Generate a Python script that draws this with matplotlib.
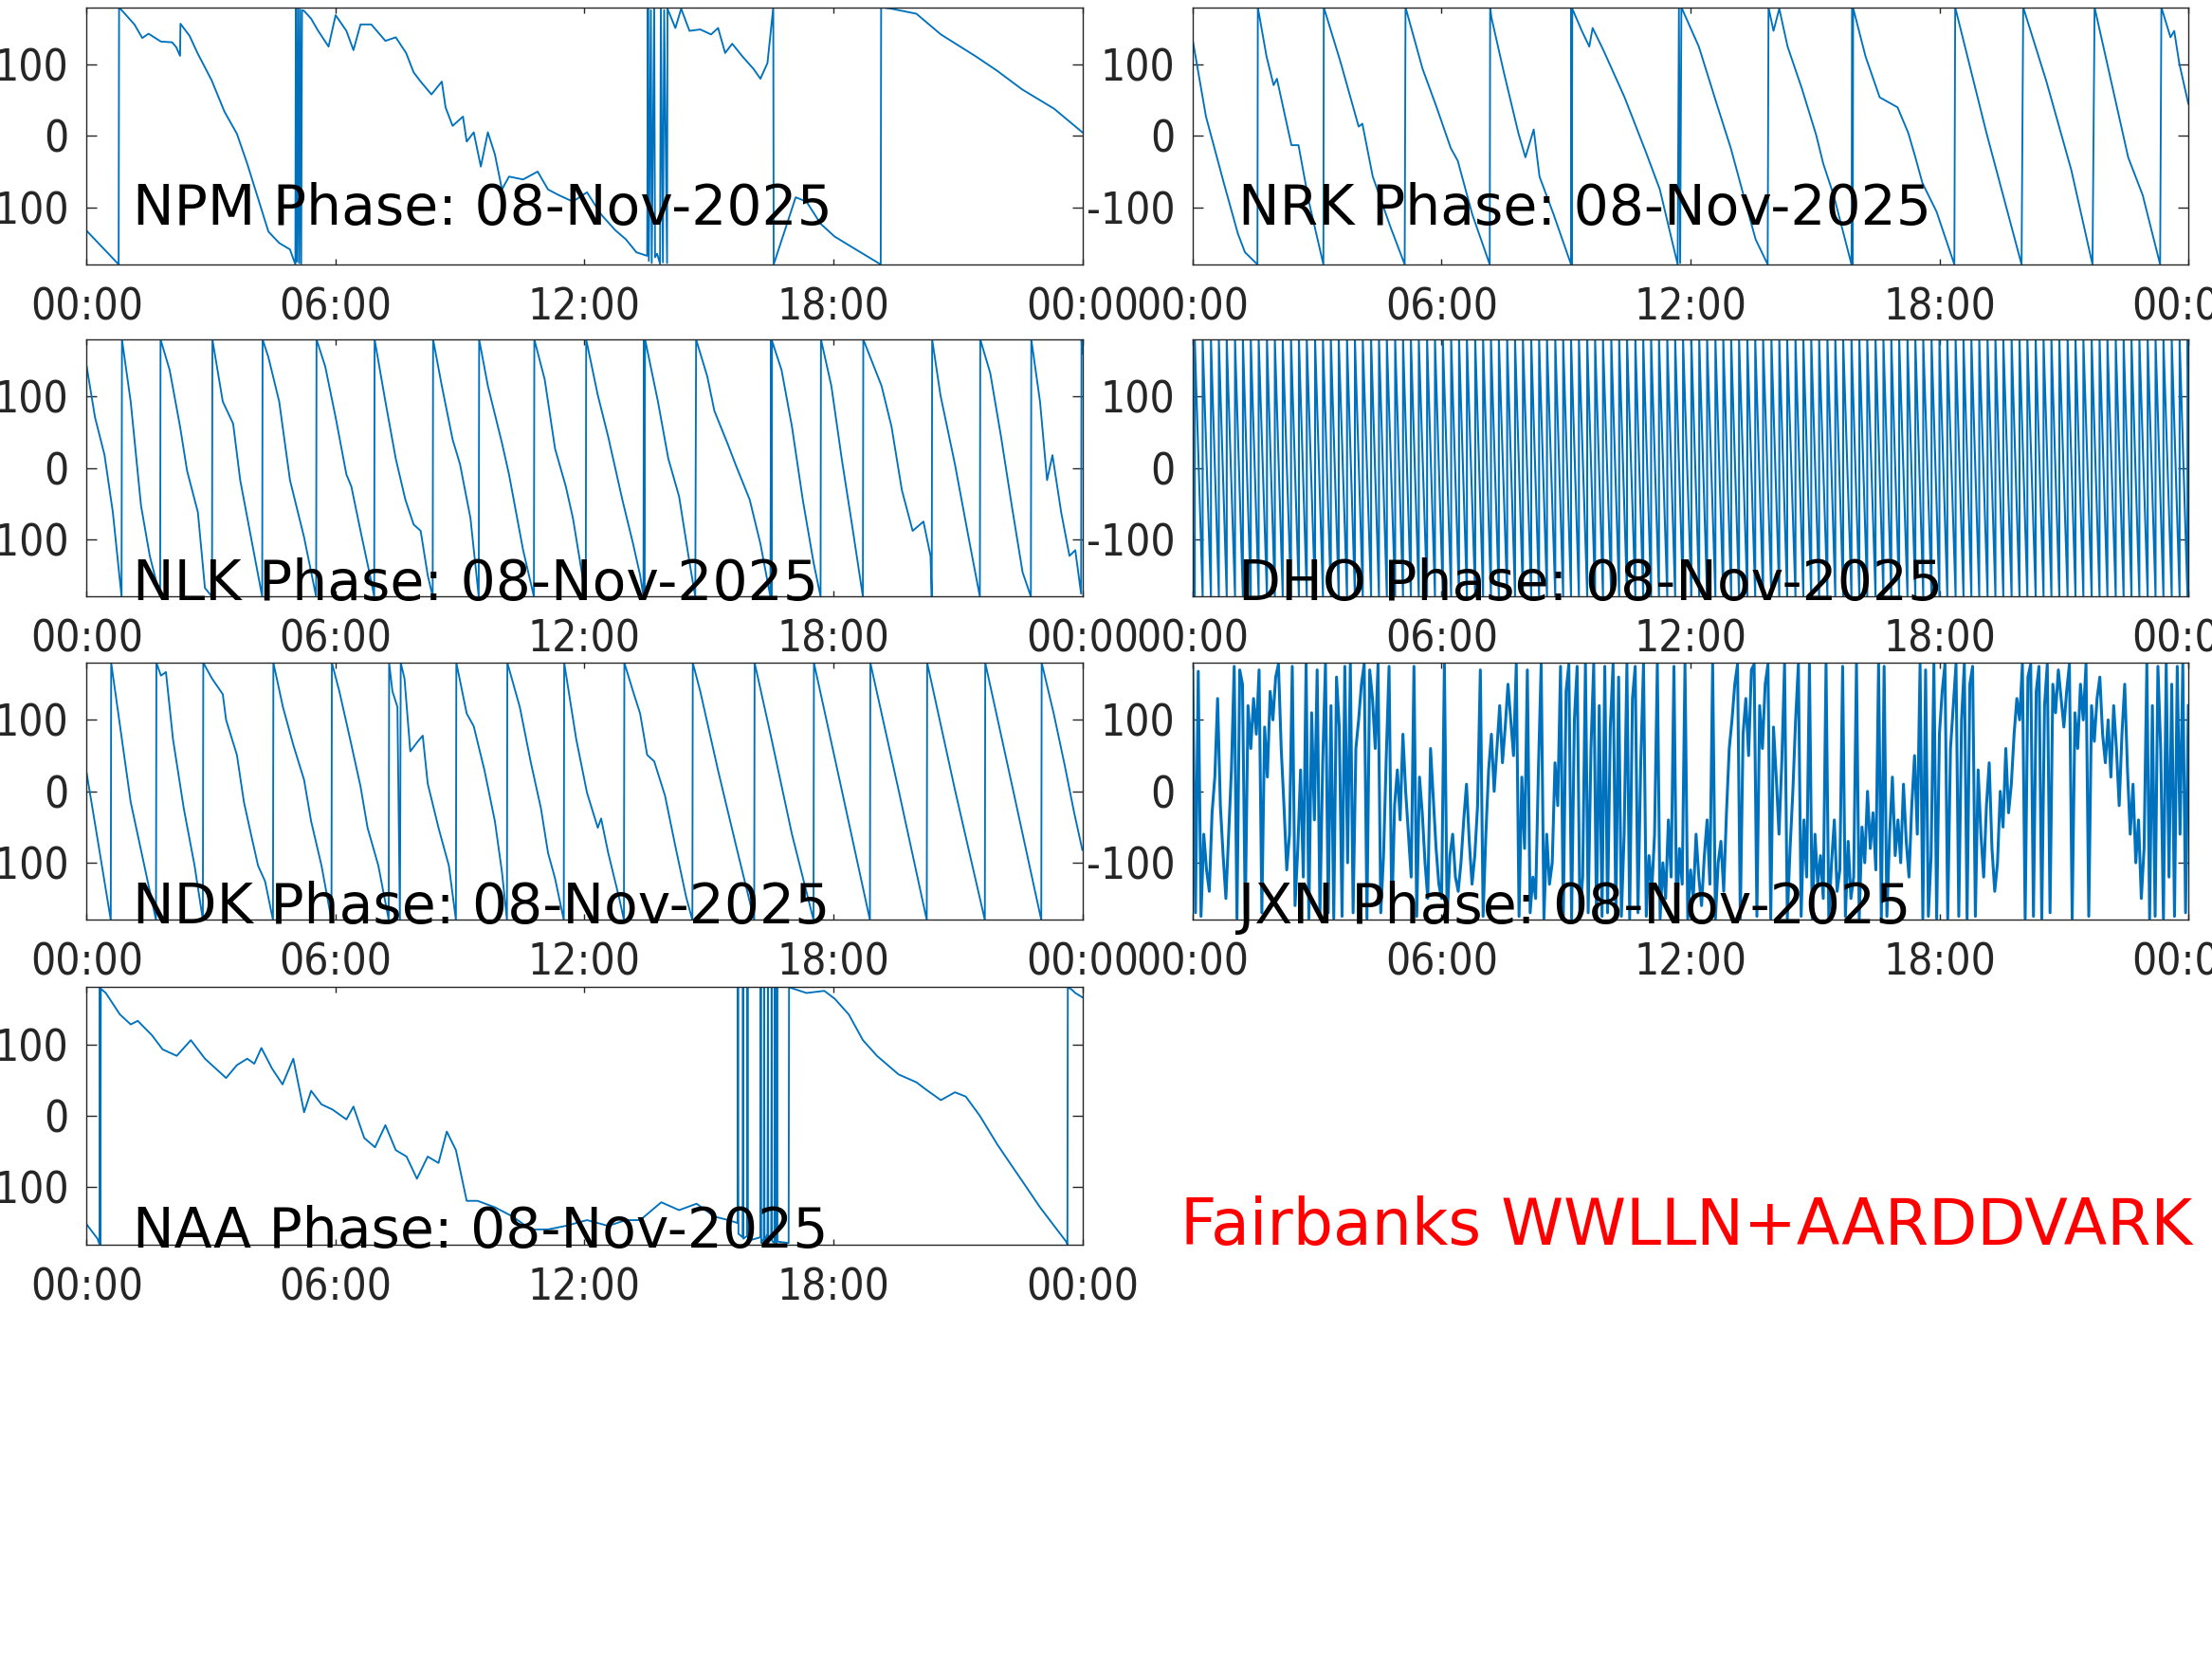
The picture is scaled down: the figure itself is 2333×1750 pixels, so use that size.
import numpy as np
import matplotlib.pyplot as plt
from matplotlib import font_manager
from matplotlib.font_manager import FontProperties

#######################################
# DATA  (hours UT, phase in degrees)

date_str = "08-Nov-2025"
hour_ticks = [0, 6, 12, 18, 24]
hour_labels = ["00:00", "06:00", "12:00", "18:00", "00:00"]
phase_ticks = [-100, 0, 100]

npm = [(0.00, -133), (0.77, -180), (0.78, 180), (1.15, 156), (1.34, 137), (1.49, 143),
       (1.79, 132), (2.06, 131), (2.16, 124), (2.25, 112), (2.26, 157), (2.48, 140),
       (2.67, 116), (3.01, 78), (3.32, 34), (3.62, 3), (3.87, -39), (4.38, -134),
       (4.64, -150), (4.90, -159), (5.03, -180), (5.04, 178), (5.07, -176), (5.09, 179),
       (5.12, -178), (5.14, 177), (5.17, -179), (5.19, 176), (5.24, 175), (5.41, 164),
       (5.58, 147), (5.83, 125), (6.00, 169), (6.26, 147), (6.43, 120), (6.60, 156),
       (6.86, 156), (7.20, 133), (7.45, 138), (7.70, 116), (7.88, 89), (8.05, 76),
       (8.31, 58), (8.56, 76), (8.65, 40), (8.82, 14), (9.07, 27), (9.16, -8),
       (9.33, 5), (9.50, -43), (9.67, 5), (9.84, -26), (10.01, -75), (10.18, -57),
       (10.52, -61), (10.87, -50), (11.12, -75), (11.38, -83), (11.72, -92), (12.06, -79),
       (12.40, -110), (12.74, -132), (13.00, -145), (13.25, -163), (13.51, -168), (13.53, 178),
       (13.55, -175), (13.60, 176), (13.62, -178), (13.68, 179), (13.70, -170), (13.75, -165),
       (13.82, -179), (13.84, 178), (13.89, -177), (13.92, 176), (13.99, -178), (14.00, 178),
       (14.19, 151), (14.33, 178), (14.53, 147), (14.79, 149), (15.05, 142), (15.22, 151),
       (15.39, 116), (15.56, 129), (15.81, 111), (16.07, 94), (16.24, 80), (16.41, 102),
       (16.55, 180), (16.56, -180), (17.09, -86), (17.35, -92), (17.69, -123), (18.03, -141),
       (18.54, -159), (19.14, -180), (19.15, 180), (19.40, 178), (20.00, 171), (20.59, 142),
       (21.44, 111), (21.95, 91), (22.55, 65), (23.32, 38), (24.00, 5)]

nrk = [(0.00, 134), (0.32, 27), (0.75, -66), (1.09, -137), (1.26, -163), (1.56, -180),
       (1.57, 180), (1.78, 111), (1.95, 71), (2.03, 80), (2.21, 32), (2.38, -13),
       (2.55, -13), (2.80, -92), (3.15, -180), (3.16, 180), (3.57, 102), (4.00, 13),
       (4.09, 17), (4.34, -57), (4.77, -128), (5.11, -180), (5.13, 180), (5.54, 94),
       (5.88, 40), (6.22, -17), (6.39, -35), (6.74, -110), (7.16, -180), (7.17, 180),
       (7.20, 166), (7.50, 89), (7.85, 4), (8.02, -30), (8.22, 9), (8.36, -57),
       (8.70, -110), (9.12, -180), (9.13, 180), (9.14, -180), (9.15, 178), (9.38, 147),
       (9.56, 125), (9.64, 151), (9.90, 120), (10.41, 54), (10.92, -22), (11.26, -75),
       (11.69, -180), (11.72, 178), (11.75, -178), (11.78, 180), (12.20, 125), (12.63, 45),
       (12.97, -17), (13.32, -92), (13.57, -145), (13.86, -180), (13.88, 180), (14.00, 147),
       (14.14, 178), (14.34, 125), (14.68, 67), (15.03, 1), (15.20, -39), (15.45, -83),
       (15.88, -180), (15.90, 180), (15.91, -180), (15.92, 179), (16.22, 111), (16.56, 54),
       (16.99, 40), (17.25, 4), (17.42, -30), (17.59, -66), (17.93, -106), (18.36, -180),
       (18.38, 180), (19.13, 5), (19.98, -180), (20.02, 180), (20.58, 76), (21.18, -48),
       (21.69, -180), (21.74, 180), (22.55, -30), (22.90, -83), (23.32, -180), (23.35, 180),
       (23.57, 138), (23.66, 147), (23.78, 102), (24.00, 45)]

nlk = [(0.00, 142), (0.20, 71), (0.43, 18), (0.63, -62), (0.84, -180), (0.85, 180),
       (1.06, 93), (1.31, -53), (1.52, -123), (1.77, -180), (1.78, 180), (2.00, 137),
       (2.25, 58), (2.42, -4), (2.68, -62), (2.85, -168), (3.02, -180), (3.03, 180),
       (3.28, 93), (3.53, 62), (3.70, -17), (3.96, -97), (4.23, -180), (4.24, 180),
       (4.38, 155), (4.64, 93), (4.90, -17), (5.24, -97), (5.53, -180), (5.54, 180),
       (5.75, 142), (6.00, 71), (6.26, -9), (6.38, -26), (6.60, -88), (6.86, -159),
       (6.93, -180), (6.94, 180), (7.20, 93), (7.45, 13), (7.68, -44), (7.88, -79),
       (8.05, -88), (8.22, -150), (8.34, -180), (8.35, 180), (8.56, 115), (8.82, 40),
       (9.00, 5), (9.25, -70), (9.45, -180), (9.46, 180), (9.67, 115), (10.01, 35),
       (10.18, -9), (10.52, -115), (10.78, -180), (10.79, 180), (11.04, 124), (11.29, 27),
       (11.55, -26), (11.72, -70), (12.03, -180), (12.04, 180), (12.32, 102), (12.57, 44),
       (12.91, -44), (13.17, -106), (13.34, -150), (13.42, -180), (13.43, 180), (13.44, -180),
       (13.46, 180), (13.77, 93), (14.02, 13), (14.28, -40), (14.53, -132), (14.67, -180),
       (14.69, 180), (14.96, 128), (15.13, 80), (15.47, 31), (15.64, 5), (15.98, -44),
       (16.24, -106), (16.48, -180), (16.50, 180), (16.51, -180), (16.52, 178), (16.75, 137),
       (17.00, 58), (17.26, -44), (17.52, -132), (17.69, -180), (17.70, 180), (17.95, 115),
       (18.20, 13), (18.46, -84), (18.71, -180), (18.72, 180), (19.16, 115), (19.40, 58),
       (19.65, -31), (19.91, -88), (20.17, -75), (20.34, -123), (20.37, -180), (20.38, 180),
       (20.58, 102), (20.93, 5), (21.27, -101), (21.53, -180), (21.54, 180), (21.78, 133),
       (22.04, 44), (22.30, -53), (22.56, -146), (22.76, -180), (22.77, 180), (22.98, 93),
       (23.15, -17), (23.28, 18), (23.49, -62), (23.69, -123), (23.83, -115), (23.97, -176),
       (23.98, 180), (24.00, 160)]

ndk = [(0.00, 25), (0.29, -77), (0.58, -180), (0.59, 180), (1.06, -15), (1.67, -180),
       (1.68, 180), (1.79, 162), (1.91, 167), (2.08, 73), (2.34, -24), (2.60, -104),
       (2.80, -180), (2.81, 180), (3.02, 158), (3.28, 136), (3.36, 100), (3.62, 51),
       (3.79, -15), (3.96, -60), (4.13, -104), (4.30, -126), (4.49, -180), (4.50, 180),
       (4.73, 118), (4.98, 65), (5.24, 16), (5.41, -42), (5.66, -104), (5.90, -180),
       (5.91, 180), (6.09, 140), (6.35, 73), (6.60, 7), (6.77, -51), (7.03, -104),
       (7.28, -180), (7.29, 180), (7.37, 140), (7.49, 118), (7.55, -180), (7.57, 180),
       (7.66, 158), (7.80, 56), (7.97, 69), (8.10, 78), (8.22, 11), (8.48, -51),
       (8.73, -104), (8.90, -180), (8.91, 180), (9.16, 109), (9.33, 91), (9.59, 29),
       (9.84, -42), (10.01, -113), (10.13, -180), (10.14, 180), (10.44, 118), (10.70, 42),
       (10.95, -24), (11.12, -86), (11.29, -122), (11.50, -180), (11.51, 180), (11.80, 73),
       (12.06, -2), (12.32, -51), (12.40, -38), (12.57, -86), (12.83, -148), (12.95, -180),
       (12.96, 180), (13.17, 140), (13.34, 109), (13.51, 51), (13.68, 42), (13.94, -6),
       (14.19, -77), (14.45, -148), (14.60, -180), (14.61, 180), (14.79, 140), (15.22, 29),
       (15.64, -73), (16.09, -180), (16.10, 180), (16.49, 78), (17.00, -60), (17.52, -180),
       (17.53, 180), (18.20, 2), (18.88, -180), (18.89, 180), (19.57, 2), (20.25, -180),
       (20.26, 180), (20.93, 2), (21.65, -180), (21.66, 180), (22.33, 2), (23.01, -180),
       (23.02, 180), (23.31, 109), (23.57, 38), (23.80, -29), (24.00, -82)]

naa = [(0.00, -152), (0.26, -172), (0.31, -180), (0.32, 180), (0.33, -180), (0.34, 178),
       (0.46, 172), (0.80, 142), (1.06, 128), (1.23, 133), (1.57, 113), (1.83, 93),
       (2.17, 84), (2.51, 106), (2.85, 80), (3.36, 53), (3.62, 71), (3.87, 80),
       (4.04, 73), (4.21, 95), (4.47, 66), (4.72, 44), (4.98, 80), (5.24, 5),
       (5.41, 35), (5.66, 16), (5.92, 9), (6.26, -5), (6.43, 13), (6.69, -31),
       (6.95, -44), (7.20, -13), (7.45, -48), (7.71, -57), (7.96, -88), (8.22, -57),
       (8.48, -66), (8.68, -22), (8.90, -48), (9.16, -119), (9.42, -119), (9.84, -128),
       (10.27, -141), (10.70, -159), (11.12, -159), (11.55, -154), (12.06, -146), (12.57, -154),
       (13.00, -146), (13.34, -146), (13.85, -121), (14.28, -132), (14.70, -123), (15.13, -141),
       (15.47, -146), (15.69, -150), (15.70, 180), (15.71, -165), (15.81, -170), (15.82, 180),
       (15.83, -172), (15.92, -168), (15.93, 180), (15.94, -175), (16.24, -170), (16.25, 180),
       (16.26, -178), (16.32, -172), (16.33, 180), (16.34, -176), (16.41, -165), (16.42, 180),
       (16.43, -178), (16.50, -170), (16.51, 180), (16.52, -175), (16.58, -178), (16.59, 180),
       (16.60, -174), (16.63, -178), (16.64, 180), (16.65, -176), (16.92, -178), (16.93, 180),
       (17.35, 172), (17.78, 175), (18.03, 164), (18.37, 142), (18.71, 106), (19.05, 84),
       (19.57, 58), (20.00, 47), (20.25, 36), (20.59, 22), (20.93, 33), (21.19, 27),
       (21.53, 0), (21.95, -40), (22.30, -70), (22.56, -92), (22.98, -128), (23.32, -154),
       (23.61, -176), (23.64, -180), (23.65, 180), (23.74, 177), (23.83, 172), (24.00, 166)]

# DHO: fast sawtooth, hours at which the phase wraps from -180 back to +180
dho_start, dho_end = -90, 140
dho_wraps = [0.05, 0.24, 0.44, 0.63, 0.82, 1.02, 1.21, 1.40, 1.59, 1.79, 1.98, 2.17,
             2.37, 2.56, 2.75, 2.95, 3.14, 3.33, 3.52, 3.72, 3.91, 4.10, 4.30, 4.49,
             4.68, 4.88, 5.07, 5.26, 5.45, 5.65, 5.84, 6.03, 6.23, 6.42, 6.61, 6.81,
             7.00, 7.19, 7.38, 7.58, 7.77, 7.96, 8.16, 8.35, 8.54, 8.74, 8.93, 9.12,
             9.31, 9.51, 9.70, 9.89, 10.09, 10.28, 10.47, 10.67, 10.86, 11.05, 11.24, 11.44,
             11.63, 11.82, 12.02, 12.21, 12.40, 12.60, 12.79, 12.98, 13.17, 13.37, 13.56, 13.75,
             13.95, 14.14, 14.33, 14.53, 14.72, 14.91, 15.10, 15.30, 15.49, 15.68, 15.88, 16.07,
             16.26, 16.46, 16.65, 16.84, 17.03, 17.23, 17.42, 17.61, 17.81, 18.00, 18.19, 18.39,
             18.58, 18.77, 18.96, 19.16, 19.35, 19.54, 19.74, 19.93, 20.12, 20.32, 20.51, 20.70,
             20.89, 21.09, 21.28, 21.47, 21.67, 21.86, 22.05, 22.25, 22.44, 22.63, 22.82, 23.02,
             23.21, 23.40, 23.60, 23.79, 23.98]

# JXN: noisy phase, one value every 4 minutes (15 per hour, one row per hour)
jxn = [175, -170, 168, -175, -60, -110, -140, -30, 20, 130, -20, -90, -150, -60, 30,
       175, -178, 170, 150, -175, 120, 60, 130, 80, 170, -170, 90, 20, 140, 100,
       160, 178, 60, -20, -110, -60, 175, -160, -80, 30, -120, 178, -178, 110, -40,
       170, -175, 40, 178, -170, 120, -178, 160, 90, -175, 175, -100, 178, -170, 60,
       100, 150, 178, -178, 170, 130, 60, 178, -170, -90, 50, 175, -175, -20, 30,
       -40, 80, 0, -60, -120, 175, -175, 20, -30, -100, -150, 60, -10, -80, -130,
       -150, 178, -178, -90, -60, -120, -140, -100, -40, 10, -70, -130, -90, -20, 170,
       -175, -60, 30, 80, 0, 60, 120, 40, 90, 150, 100, 50, 178, -175, 20,
       -80, 170, -170, -120, -150, 30, 178, -178, -60, -130, -100, 40, -20, 175, -178,
       140, 178, -178, 100, 175, -175, -120, 178, -170, 60, 178, -178, 120, -175, 175,
       -170, 90, 178, -178, 160, -175, -60, 178, -178, 130, 175, -170, 40, 178, -175,
       -90, -140, -60, 178, -178, -100, -150, -40, -120, 175, -175, -80, -130, 178, -178,
       -110, -150, -60, -120, -160, -90, -40, -130, 178, -178, -100, -70, -140, -30, 60,
       100, 150, 178, -178, 80, 130, 50, 170, 178, -175, 120, 60, 150, 178, -178,
       90, 20, -60, 40, 178, -178, -80, 0, 100, 178, -175, -40, -120, 178, -178,
       -60, -130, -90, -150, 178, -178, -100, -40, -140, -110, 175, -175, -70, -150, -120,
       178, -178, -50, -100, 0, -80, -30, -110, 178, -178, 175, -175, -60, 20, -90,
       -40, -100, 10, -70, -120, -20, 50, -60, 178, -178, 170, -175, -90, 178, -178,
       80, 140, 178, -178, 60, 120, 178, -175, 100, 178, -178, 150, 175, -175, 30,
       -60, -120, -20, 40, -80, -140, -100, 0, -50, 60, -30, 10, 80, 130, 100,
       178, -178, 160, 178, -175, 140, 175, -178, 120, 178, -170, 150, 110, 170, 130,
       90, 140, 178, -178, 110, 60, 150, 100, 178, -175, 120, 70, 130, 160, 80,
       40, 100, 20, 120, 60, -20, 80, 150, 30, -60, 10, -100, -40, -150, -80,
       178, -178, 120, -175, 175, 60, -178, 178, -120, 150, -175, 175, -60, 178, -170,
       120]

#######################################
# BUILD SERIES

dho = [(0.0, dho_start)]
for w in dho_wraps:
    dho += [(w, -180), (w, 180)]
dho.append((24.0, dho_end))

jxn_t = np.linspace(0, 24, len(jxn))

series = {
    "NPM": tuple(zip(*npm)),
    "NRK": tuple(zip(*nrk)),
    "NLK": tuple(zip(*nlk)),
    "DHO": tuple(zip(*dho)),
    "NDK": tuple(zip(*ndk)),
    "JXN": (jxn_t, jxn),
    "NAA": tuple(zip(*naa)),
}

#######################################
# FIGURE

plt.rcParams["axes.unicode_minus"] = False

W, H, DPI = 2333, 1750, 100
fig = plt.figure(figsize=(W / DPI, H / DPI), dpi=DPI)

# narrow font for the tick labels if one is installed, else plain DejaVu
tick_fp = None
for want_name, want_stretch, size in [("Liberation Sans Narrow", None, 40),
                                      ("DejaVu Sans", "condensed", 33)]:
    for f in font_manager.fontManager.ttflist:
        if f.name != want_name or f.style != "normal" or f.weight not in (400, "normal"):
            continue
        if want_stretch and f.stretch != want_stretch:
            continue
        tick_fp = FontProperties(fname=f.fname, size=size)
        break
    if tick_fp is not None:
        break
if tick_fp is None:
    tick_fp = FontProperties(family="DejaVu Sans", size=31)

line_color = "#0072BD"
axis_color = "#262626"

col_left = [0.0392, 0.5392]
row_bottom = [0.8406, 0.6404, 0.4455, 0.2499]
ax_w, ax_h = 0.4501, 0.1550
label_y = [0.155, -0.013, -0.013, -0.013]
line_w = {"DHO": 1.5, "JXN": 2.2}

layout = [("NPM", 0, 0), ("NRK", 0, 1),
          ("NLK", 1, 0), ("DHO", 1, 1),
          ("NDK", 2, 0), ("JXN", 2, 1),
          ("NAA", 3, 0)]

for name, r, c in layout:
    ax = fig.add_axes([col_left[c], row_bottom[r], ax_w, ax_h])
    t, p = series[name]
    ax.plot(t, p, color=line_color, linewidth=line_w.get(name, 1.35))
    ax.set_xlim(0, 24)
    ax.set_ylim(-180, 180)
    ax.set_xticks(hour_ticks)
    ax.set_xticklabels(hour_labels)
    ax.set_yticks(phase_ticks)
    for s in ax.spines.values():
        s.set_color(axis_color)
        s.set_linewidth(1.0)
    ax.tick_params(direction="in", top=True, right=True, colors=axis_color, width=1.0)
    ax.tick_params(axis="x", length=4.5, pad=17)
    ax.tick_params(axis="y", length=8, pad=13.5)
    for lab in ax.get_xticklabels() + ax.get_yticklabels():
        lab.set_fontproperties(tick_fp)
    ax.text(0.046, label_y[r], f"{name} Phase: {date_str}", transform=ax.transAxes,
            fontsize=42, family="DejaVu Sans", color="black",
            ha="left", va="baseline", zorder=5, clip_on=False)

fig.text(0.5336, 0.2499, "Fairbanks WWLLN+AARDDVARK", color="red",
         fontsize=48, family="DejaVu Sans", ha="left", va="baseline")

fig.savefig("out.png", dpi=DPI)
